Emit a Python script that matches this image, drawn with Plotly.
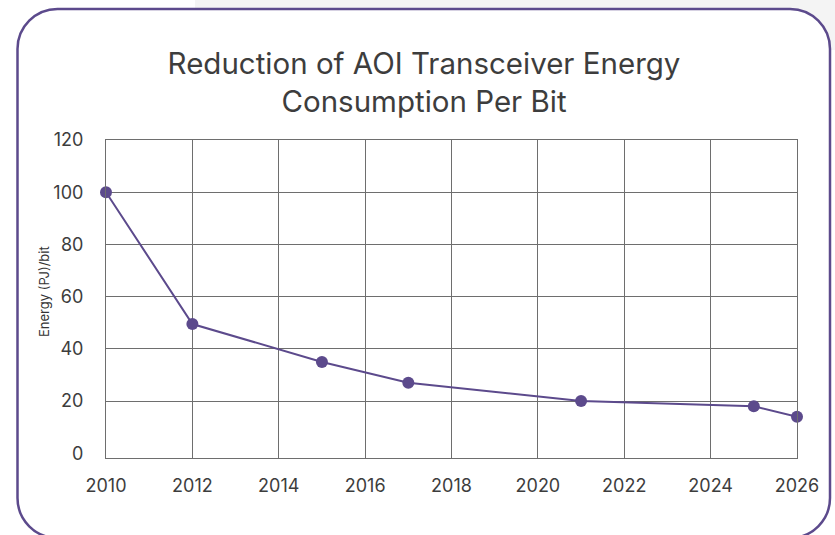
import plotly.graph_objects as go

# ---- data ----
years = [2010, 2012, 2015, 2017, 2021, 2025, 2026]
energy = [100, 49.5, 35, 27, 20, 18, 14]
y_ticks = [0, 20, 40, 60, 80, 100, 120]
x_ticks = [2010, 2012, 2014, 2016, 2018, 2020, 2022, 2024, 2026]

PURPLE = "#5c4a8c"
GRID = "#6e6e6e"
TXT = "#3d3d3d"
FONT = "Inter"

W, H = 835, 535
PL, PR, PT, PB = 106, 797, 140, 458


def px(x):
    return (x - PL) / (PR - PL)


def py(y):
    return (PB - y) / (PB - PT)


def card_path(L, T, R, B, r):
    k = r * 0.5523

    def P(x, y):
        return f"{px(x):.5f},{py(y):.5f}"
    s = f"M {P(L + r, T)} L {P(R - r, T)} "
    s += f"C {P(R - r + k, T)} {P(R, T + r - k)} {P(R, T + r)} "
    s += f"L {P(R, B - r)} "
    s += f"C {P(R, B - r + k)} {P(R - r + k, B)} {P(R - r, B)} "
    s += f"L {P(L + r, B)} "
    s += f"C {P(L + r - k, B)} {P(L, B - r + k)} {P(L, B - r)} "
    s += f"L {P(L, T + r)} "
    s += f"C {P(L, T + r - k)} {P(L + r - k, T)} {P(L + r, T)} Z"
    return s


fig = go.Figure()
fig.add_trace(go.Scatter(
    x=years, y=energy, mode="lines+markers",
    line=dict(color=PURPLE, width=2),
    marker=dict(color=PURPLE, size=12),
    showlegend=False, cliponaxis=False,
))

shapes = [
    dict(type="rect", xref="paper", yref="paper", layer="below",
         x0=px(195), x1=px(836), y0=py(-1), y1=py(50),
         fillcolor="#f4f4f4", line=dict(width=0)),
    dict(type="path", xref="paper", yref="paper", layer="below",
         path=card_path(17.5, 9, 830, 538, 40),
         fillcolor="white", line=dict(color=PURPLE, width=2.5)),
]

fig.update_layout(
    width=W, height=H,
    margin=dict(l=PL, r=W - PR, t=PT, b=H - PB, pad=0),
    paper_bgcolor="white", plot_bgcolor="white",
    font=dict(family=FONT, color=TXT),
    title=dict(
        text="Reduction of AOI Transceiver Energy<br>Consumption Per Bit",
        x=424 / W, xref="container", xanchor="center",
        y=1 - 74 / H, yref="container", yanchor="middle",
        font=dict(family=FONT, size=29.5, color=TXT),
    ),
    shapes=shapes,
    annotations=[dict(
        text="Energy (PJ)/bit", textangle=-90,
        xref="paper", yref="paper", x=px(44), y=py(292),
        xanchor="center", yanchor="middle", showarrow=False,
        font=dict(family=FONT, size=13, color="#333333"),
    )],
    xaxis=dict(
        range=[2010, 2026], tickvals=x_ticks,
        showgrid=True, gridcolor=GRID, gridwidth=1,
        showline=True, linecolor=GRID, linewidth=1, mirror=True,
        zeroline=False, ticks="", ticklabelstandoff=11,
        tickfont=dict(family=FONT, size=18, color=TXT),
    ),
    yaxis=dict(
        range=[-1.8, 120], tickvals=y_ticks,
        showgrid=False,
        minor=dict(tickvals=y_ticks[1:], showgrid=True,
                   gridcolor=GRID, gridwidth=1, ticks=""),
        showline=True, linecolor=GRID, linewidth=1, mirror=True,
        zeroline=False, ticks="", ticklabelstandoff=18,
        tickfont=dict(family=FONT, size=18, color=TXT),
    ),
)

fig.write_html(
    "out.html",
    config={"displayModeBar": False},
    post_script="document.body.style.margin='0';document.body.style.overflow='hidden';",
)
